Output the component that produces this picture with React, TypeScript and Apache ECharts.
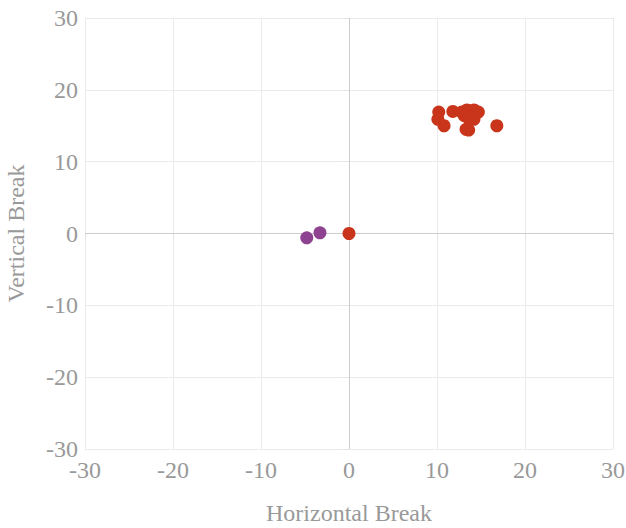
import React, { useEffect, useRef } from "react";
import * as echarts from "echarts";

const redPoints: [number, number][] = [
  [0, 0],
  [10.2, 16.9],
  [10.1, 15.9],
  [10.8, 15.0],
  [11.8, 17.0],
  [12.8, 16.9],
  [13.4, 17.2],
  [14.2, 17.2],
  [14.7, 16.9],
  [13.1, 16.4],
  [13.6, 16.0],
  [14.2, 15.9],
  [13.3, 14.5],
  [13.6, 14.4],
  [16.8, 15.0],
];
const purplePoints: [number, number][] = [
  [-4.8, -0.6],
  [-3.3, 0.1],
];
const axisTicks = [-30, -20, -10, 0, 10, 20, 30];

export default function App() {
  const ref = useRef<HTMLDivElement>(null);
  useEffect(() => {
    if (!ref.current) return;
    document.body.style.margin = "0";
    document.body.style.overflow = "hidden";
    const chart = echarts.init(ref.current, undefined, { renderer: "svg" });
    const font = "'Liberation Serif', 'Times New Roman', serif";
    const axisCommon = {
      type: "value" as const,
      min: axisTicks[0],
      max: axisTicks[axisTicks.length - 1],
      interval: 10,
      nameLocation: "middle" as const,
      nameTextStyle: { color: "#999", fontSize: 24, fontFamily: font },
      axisLine: { show: false },
      axisTick: { show: true, length: 6, lineStyle: { color: "#e3e3e3" } },
      axisLabel: { color: "#999", fontSize: 24, fontFamily: font },
      splitLine: { show: true, lineStyle: { color: "#ebebeb", width: 1 } },
    };
    chart.setOption({
      animation: false,
      grid: {
        left: 85,
        right: 13,
        top: 18,
        bottom: 79,
        containLabel: false,
        outerBoundsMode: "none",
      },
      xAxis: {
        ...axisCommon,
        name: "Horizontal Break",
        nameGap: 52,
        axisLabel: { ...axisCommon.axisLabel, margin: 9 },
      },
      yAxis: {
        ...axisCommon,
        name: "Vertical Break",
        nameGap: 57,
        axisLabel: { ...axisCommon.axisLabel, margin: 7 },
      },
      series: [
        {
          type: "scatter",
          data: [],
          z: 1,
          markLine: {
            silent: true,
            symbol: "none",
            label: { show: false },
            lineStyle: { color: "#cccccc", width: 1, type: "solid" },
            data: [{ xAxis: 0 }, { yAxis: 0 }],
          },
        },
        {
          type: "scatter",
          data: redPoints,
          symbolSize: 13,
          itemStyle: { color: "#c9351b", opacity: 1 },
          z: 5,
        },
        {
          type: "scatter",
          data: purplePoints,
          symbolSize: 13,
          itemStyle: { color: "#8e4390", opacity: 1 },
          z: 5,
        },
      ],
    });
    return () => chart.dispose();
  }, []);
  return <div ref={ref} style={{ width: 626, height: 528 }} />;
}
